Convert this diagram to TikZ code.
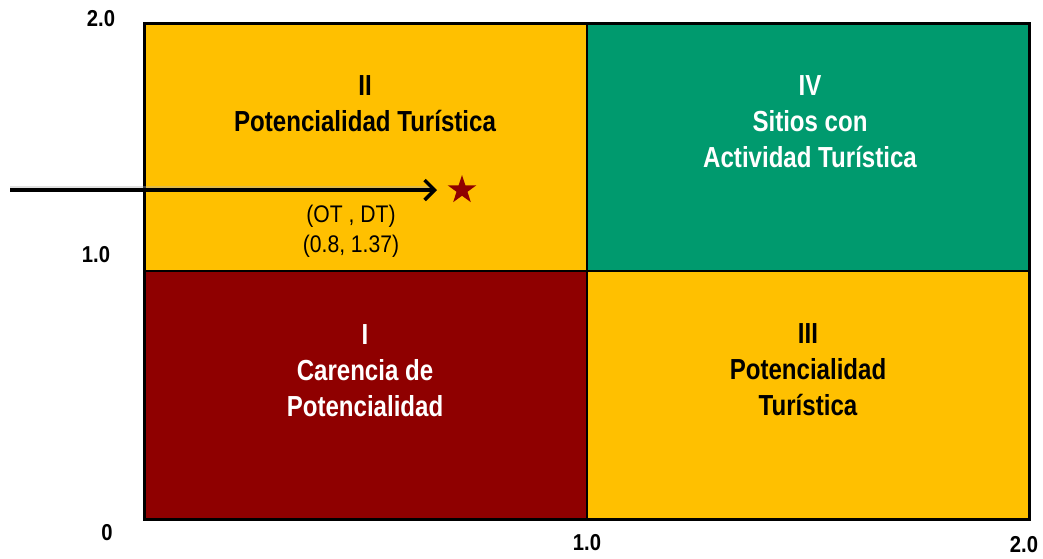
\documentclass[tikz,border=0pt]{standalone}
\usepackage{fontspec}
\setmainfont{Liberation Sans}
\newfontfamily\qfont[FakeStretch=0.83]{Liberation Sans}
\newfontfamily\afont[FakeStretch=0.88]{Liberation Sans}
\usetikzlibrary{arrows.meta,shapes.geometric}
\definecolor{qyellow}{HTML}{FFC000}
\definecolor{qgreen}{HTML}{009A6E}
\definecolor{qred}{HTML}{8F0000}
\begin{document}
\begin{tikzpicture}[x=1pt,y=-1pt,
  border/.style={draw=black, line width=2.5pt},
  qlabel/.style={align=center, inner sep=0pt, font=\qfont\bfseries\fontsize{29}{36}\selectfont},
  axlabel/.style={inner sep=0pt, font=\afont\bfseries\fontsize{23}{27}\selectfont},
  ptlabel/.style={align=center, inner sep=0pt, font=\afont\fontsize{24}{30}\selectfont},
  pointer/.style={line width=3.5pt, -{Straight Barb[length=10pt,width=20pt,line width=3.5pt]}}]
\useasboundingbox (0,0) rectangle (1043,558);
% quadrants
\fill[qyellow] (144.5,23.5) rectangle (587,271);
\fill[qgreen] (587,23.5) rectangle (1029.5,271);
\fill[qred] (144.5,271) rectangle (587,519.5);
\fill[qyellow] (587,271) rectangle (1029.5,519.5);
\draw[border] (144.5,23.5) rectangle (1029.5,519.5);
\draw[border] (587,23.5) -- (587,519.5);
\draw[border] (144.5,271) -- (1029.5,271);
% quadrant labels
\node[qlabel, text=black] (q2) at (365,104) {II\\Potencialidad Turística};
\node[qlabel, text=white] (q4) at (810,122) {IV\\Sitios con\\Actividad Turística};
\node[qlabel, text=white] (q1) at (365,371) {I\\Carencia de\\Potencialidad};
\node[qlabel, text=black] (q3) at (808,370) {III\\Potencialidad\\Turística};
% axis labels
\node[axlabel] (y2) at (101,18.5) {2.0};
\node[axlabel] (y1) at (96,255) {1.0};
\node[axlabel] (y0) at (107,533) {0};
\node[axlabel] (x1) at (587,543) {1.0};
\node[axlabel] (x2) at (1024,545) {2.0};
% point
\node[star, star points=5, star point ratio=2.6, minimum size=30pt, inner sep=0pt, fill=qred] (pt) at (462,190) {};
\coordinate (arrowstart) at (10,190);
\draw[black!30, line width=3pt, opacity=0.4] ([yshift=3pt]arrowstart) -- ([xshift=-28pt,yshift=3pt]pt.center);
\draw[pointer, shorten >=25pt] (arrowstart) -- (pt.center);
\node[ptlabel] (ptl) at (351,231) {(OT , DT)\\(0.8, 1.37)};
\end{tikzpicture}
\end{document}
